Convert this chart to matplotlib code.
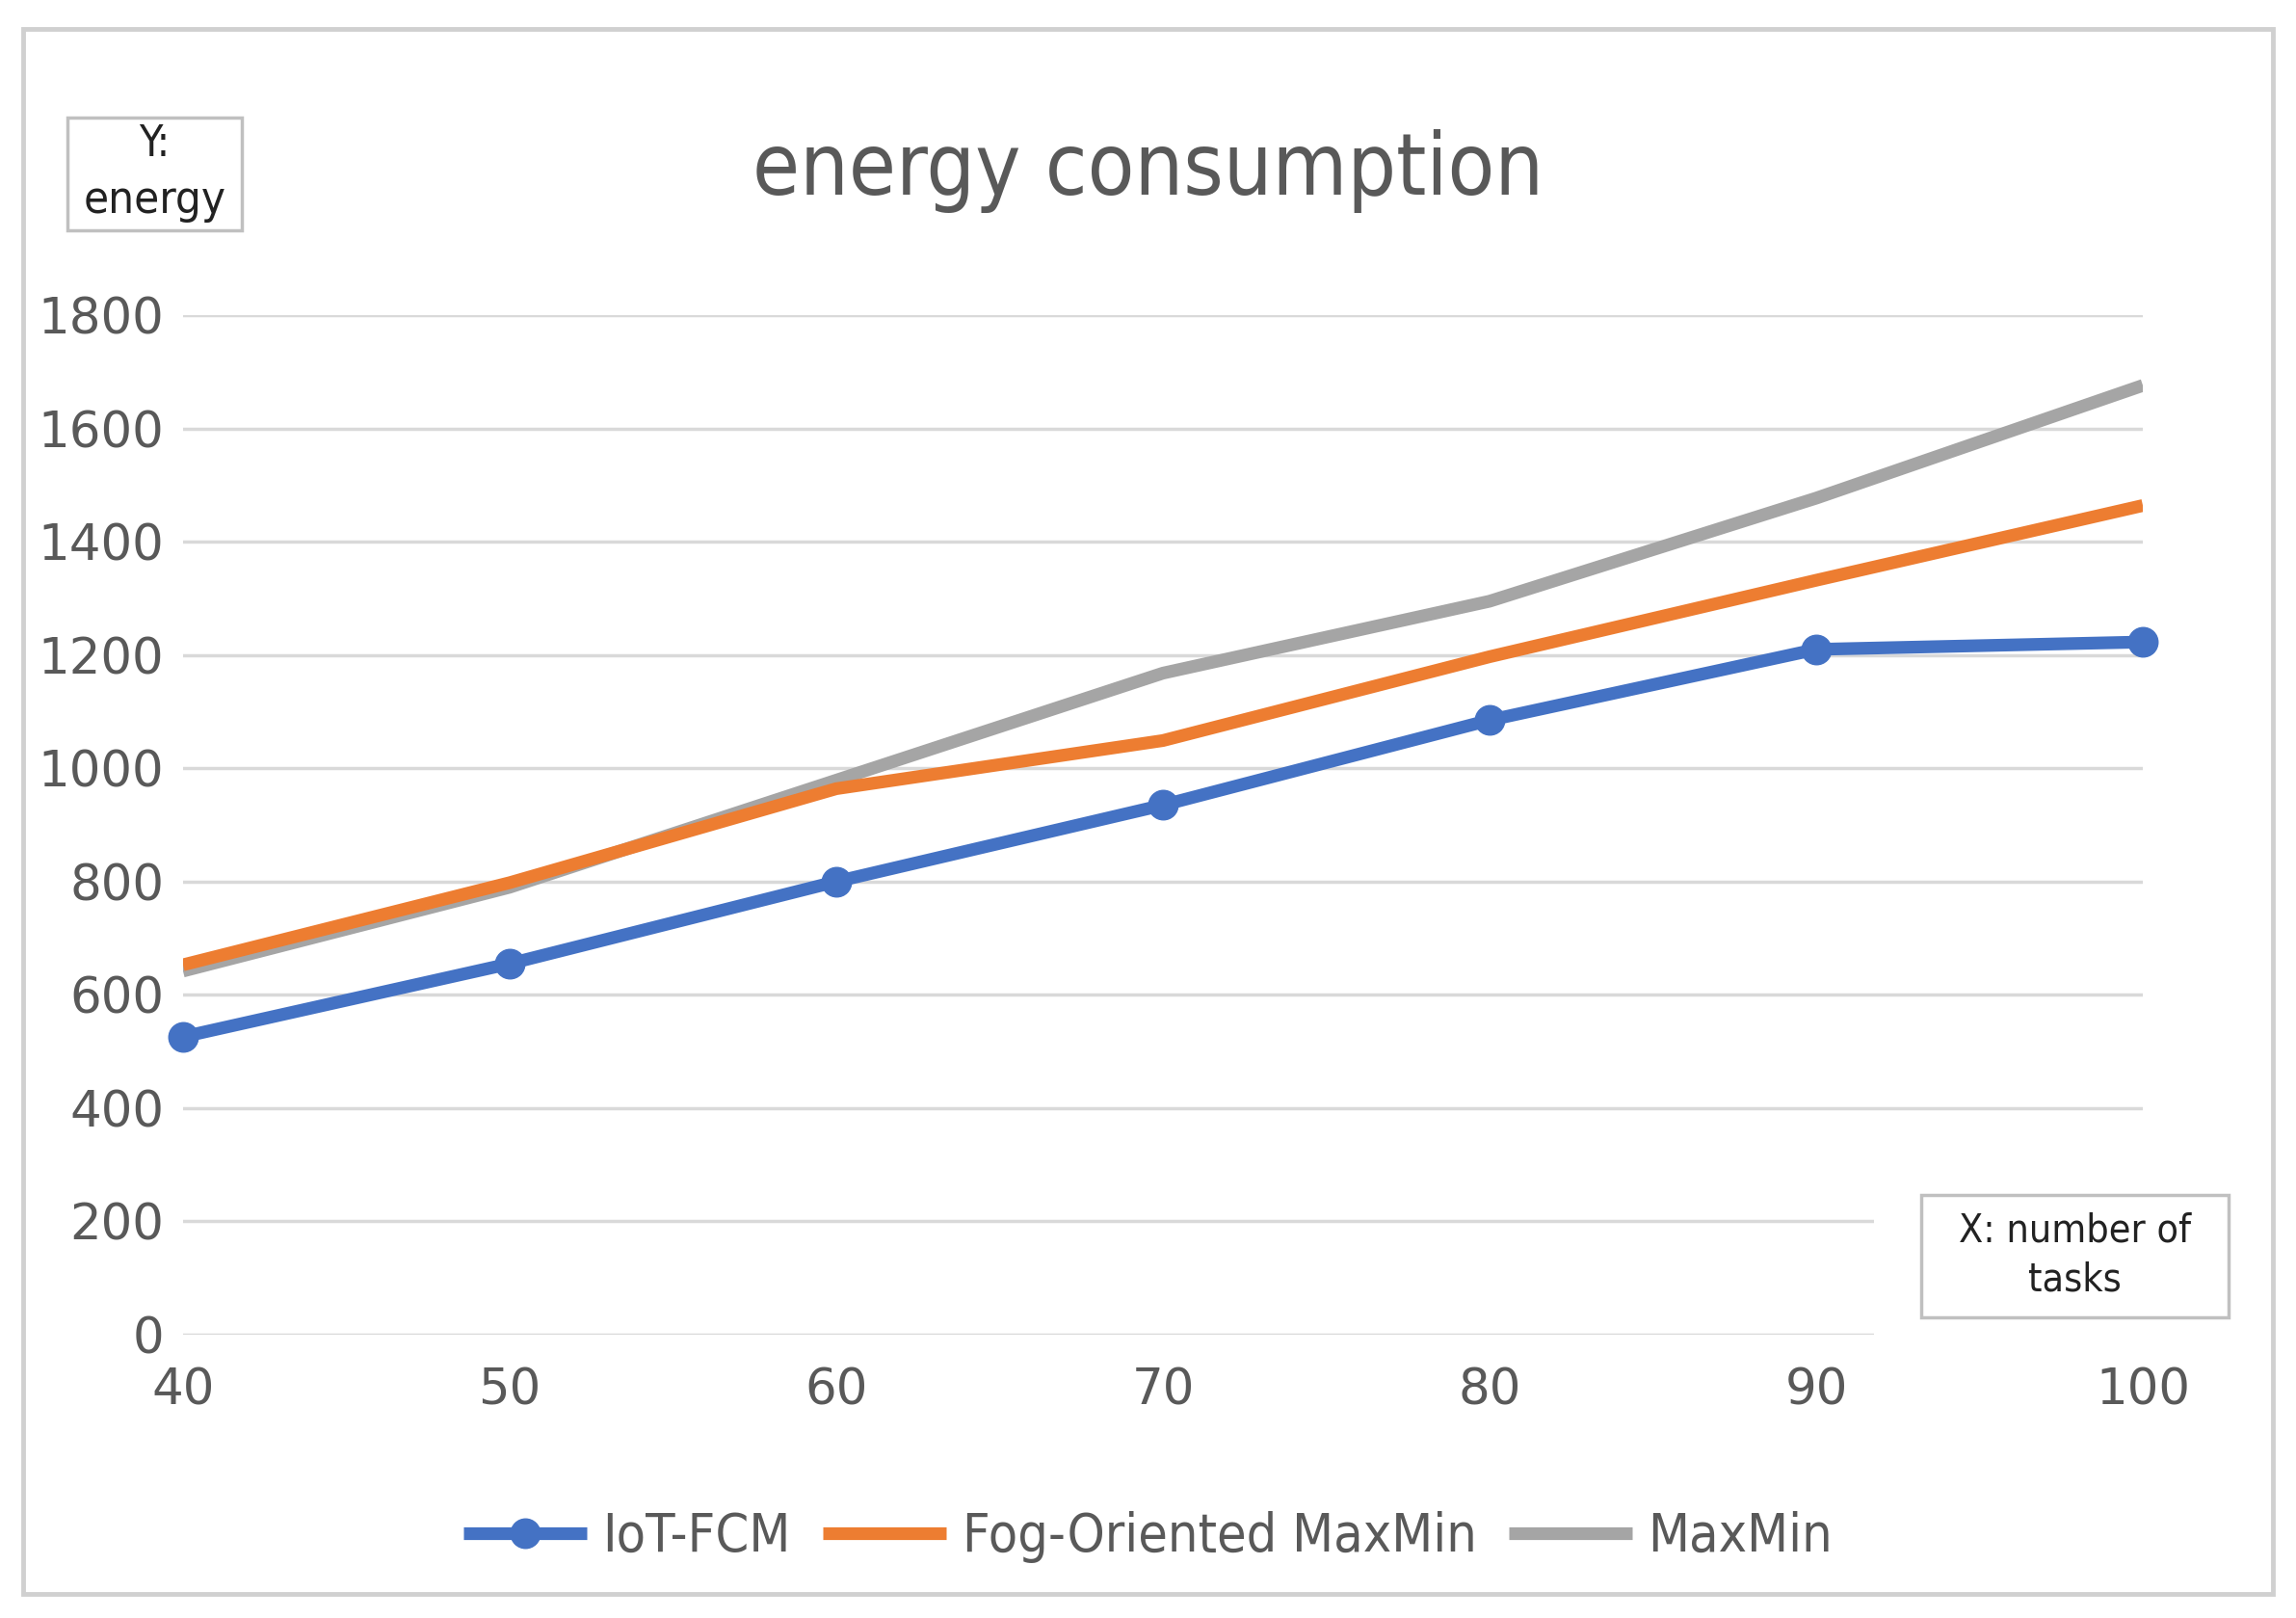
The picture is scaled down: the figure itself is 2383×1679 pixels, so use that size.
import matplotlib.pyplot as plt
from matplotlib.patches import Rectangle

# Data
tasks = [40, 50, 60, 70, 80, 90, 100]
iot_fcm = [526, 655, 800, 935, 1085, 1210, 1223]
fog_maxmin = [653, 798, 964, 1049, 1197, 1332, 1464]
maxmin = [642, 790, 979, 1168, 1295, 1477, 1676]
y_ticks = [0, 200, 400, 600, 800, 1000, 1200, 1400, 1600, 1800]

text_col = '#595959'
grid_col = '#d9d9d9'

plt.rcParams['font.family'] = ['DejaVu Sans']
plt.rcParams['font.stretch'] = 'condensed'

fig = plt.figure(figsize=(23.83, 16.79), dpi=100)
ax = fig.add_axes([0.0797, 0.1751, 0.9333 - 0.0797, 0.8052 - 0.1751])

#Plot
ax.plot(tasks, maxmin, color='#a5a5a5', lw=9.5, solid_capstyle='butt',
        label='MaxMin', zorder=3)
ax.plot(tasks, fog_maxmin, color='#ed7d31', lw=9.5, solid_capstyle='butt',
        label='Fog-Oriented MaxMin', zorder=4)
ax.plot(tasks, iot_fcm, color='#4472c4', lw=9.5, solid_capstyle='butt',
        marker='o', ms=22, clip_on=False, label='IoT-FCM', zorder=5)

ax.set_xlim(40, 100)
ax.set_ylim(0, 1800)
ax.set_xticks(tasks)
ax.set_yticks(y_ticks)
ax.grid(axis='y', color=grid_col, lw=2.5, zorder=1)
ax.set_axisbelow(True)
for s in ax.spines.values():
    s.set_visible(False)
ax.tick_params(axis='both', length=0, labelsize=37, labelcolor=text_col)
ax.tick_params(axis='x', pad=24)
ax.tick_params(axis='y', pad=14)
for lab in ax.get_xticklabels() + ax.get_yticklabels():
    lab.set_fontstretch('normal')

# title
fig.text(0.5, 0.894, 'energy consumption', ha='center', va='center',
         fontsize=64, color=text_col)

# outer border
fig.patches.append(Rectangle((0.0101, 0.0149), 0.980, 0.967, transform=fig.transFigure,
                             fill=False, edgecolor='#d0d0d0', lw=3.5))

# Y label box
fig.patches.append(Rectangle((0.0294, 0.8577), 0.0759, 0.0696, transform=fig.transFigure,
                             facecolor='white', edgecolor='#c0c0c0', lw=2.5))
fig.text(0.0673, 0.911, 'Y:', ha='center', va='center', fontsize=32, color='#222222')
fig.text(0.0673, 0.876, 'energy', ha='center', va='center', fontsize=34, color='#222222')

# X label box, with white cover over the low gridlines
fig.patches.append(Rectangle((0.816, 0.165), 0.16, 0.105, transform=fig.transFigure,
                             facecolor='white', edgecolor='none', zorder=2))
fig.patches.append(Rectangle((0.8368, 0.1858), 0.1338, 0.0757, transform=fig.transFigure,
                             facecolor='white', edgecolor='#c0c0c0', lw=2.5, zorder=3))
fig.text(0.9037, 0.239, 'X: number of', ha='center', va='center', fontsize=29.5,
         color='#222222', zorder=4)
fig.text(0.9037, 0.209, 'tasks', ha='center', va='center', fontsize=29.5,
         color='#222222', zorder=4)

# legend
h, l = ax.get_legend_handles_labels()
order = [2, 1, 0]
leg = fig.legend([h[i] for i in order], [l[i] for i in order], loc='center',
                 bbox_to_anchor=(0.5, 0.05), ncol=3, frameon=False, fontsize=40,
                 handlelength=2.3, handletextpad=0.3, columnspacing=0.6,
                 labelcolor=text_col)

fig.savefig('out.png', dpi=100)
